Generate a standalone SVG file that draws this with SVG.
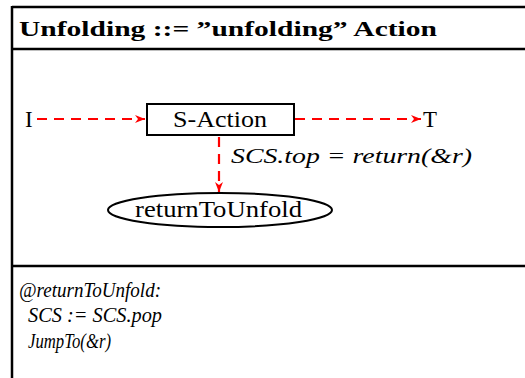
<svg xmlns="http://www.w3.org/2000/svg" width="525" height="378" viewBox="0 0 525 378">
  <style>
    .frame { stroke: #000; stroke-width: 2.5; fill: none; }
    .txt { font-family: "Liberation Serif", "DejaVu Serif", serif; fill: #000; }
    .it { font-style: italic; }
    .dash { stroke: #ff0000; stroke-width: 2.2; stroke-dasharray: 10 7; fill: none; }
    .node { stroke: #000; stroke-width: 2; fill: #fff; }
  </style>
  <defs>
    <marker id="arr" viewBox="0 0 10 10" refX="10" refY="5" markerWidth="10" markerHeight="10" markerUnits="userSpaceOnUse" orient="auto">
      <path d="M0,1 L10,5 L0,9 L3,5 Z" fill="#ff0000"/>
    </marker>
  </defs>

  <!-- outer frame -->
  <g id="frame">
    <line class="frame" x1="12" y1="7" x2="525" y2="7"/>
    <line class="frame" x1="12" y1="49" x2="525" y2="49"/>
    <line class="frame" x1="12" y1="266" x2="525" y2="266"/>
    <line class="frame" x1="12" y1="6" x2="12" y2="378"/>
  </g>

  <text class="txt" x="19" y="36" font-size="22" font-weight="bold" textLength="418" lengthAdjust="spacingAndGlyphs">Unfolding ::= ”unfolding”  Action</text>

  <!-- connectors -->
  <g id="connectors">
    <line class="dash" x1="37" y1="119" x2="145" y2="119" marker-end="url(#arr)"/>
    <line class="dash" x1="295" y1="119" x2="421" y2="119" marker-end="url(#arr)"/>
    <line class="dash" x1="219" y1="137" x2="219" y2="192" marker-end="url(#arr)"/>
    <text class="txt it" x="231" y="163" font-size="21" textLength="241" lengthAdjust="spacingAndGlyphs">SCS.top =  return(&amp;r)</text>
  </g>

  <g id="I">
    <text class="txt" x="25" y="127" font-size="23">I</text>
  </g>
  <g id="T">
    <text class="txt" x="423" y="127" font-size="23" textLength="14" lengthAdjust="spacingAndGlyphs">T</text>
  </g>
  <g id="S-Action">
    <rect class="node" x="147" y="104" width="147" height="31"/>
    <text class="txt" x="173" y="127" font-size="23" textLength="94" lengthAdjust="spacingAndGlyphs">S-Action</text>
  </g>
  <g id="returnToUnfold">
    <ellipse class="node" cx="220" cy="210" rx="112" ry="17"/>
    <text class="txt" x="135" y="217" font-size="23" textLength="167" lengthAdjust="spacingAndGlyphs">returnToUnfold</text>
  </g>

  <g id="code">
    <text class="txt it" x="19" y="297" font-size="21" textLength="142" lengthAdjust="spacingAndGlyphs">@returnToUnfold:</text>
    <text class="txt it" x="28" y="322" font-size="21" textLength="134" lengthAdjust="spacingAndGlyphs">SCS := SCS.pop</text>
    <text class="txt it" x="28" y="348" font-size="21" textLength="83" lengthAdjust="spacingAndGlyphs">JumpTo(&amp;r)</text>
  </g>
</svg>
